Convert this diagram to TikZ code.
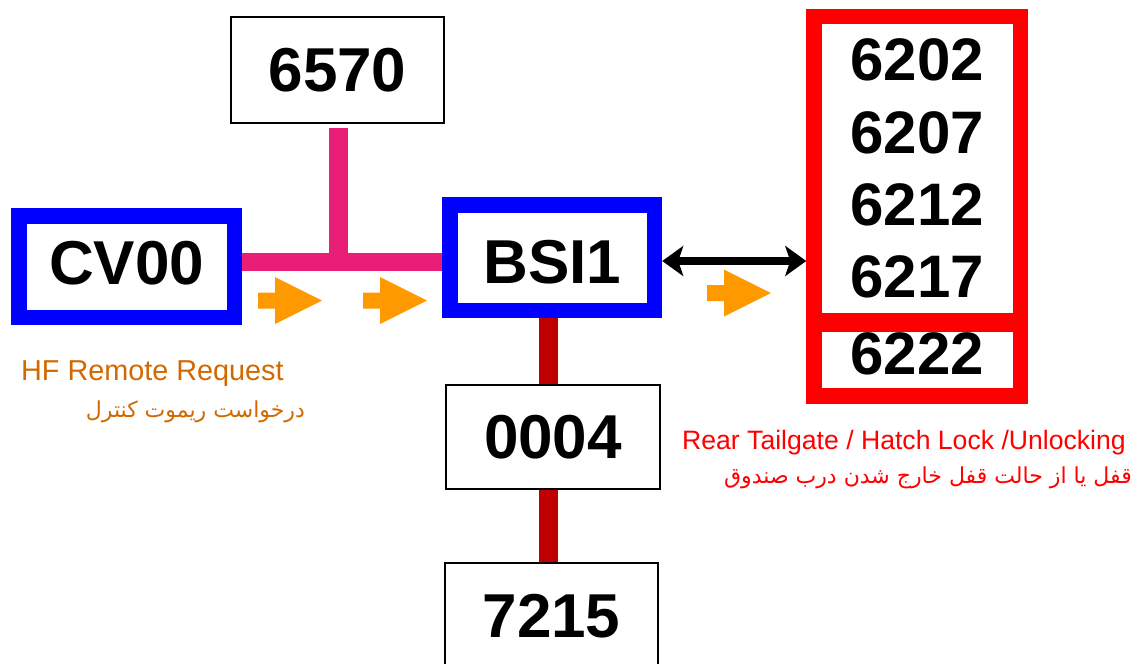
\documentclass[tikz,border=0pt]{standalone}
\usepackage{fontspec}
\setmainfont{Liberation Sans}
\newfontfamily\arabicfont[Script=Arabic]{DejaVu Sans}
\TeXXeTstate=1
\usetikzlibrary{arrows.meta,backgrounds}
\definecolor{busPink}{RGB}{233,30,118}
\definecolor{busRed}{RGB}{192,0,0}
\definecolor{flowOrange}{RGB}{255,153,0}
\definecolor{noteOrange}{RGB}{210,105,0}
\begin{document}
\begin{tikzpicture}[x=1pt,y=-1pt,
  unit/.style={draw=black,line width=2.5pt,inner sep=0pt,font=\fontsize{62}{62}\selectfont\bfseries,
    minimum width=213pt,minimum height=106pt},
  hub/.style={unit,draw=blue,line width=15.5pt},
  lock/.style={unit,draw=red,line width=15.5pt,align=center,
    font=\fontsize{60}{72.3}\selectfont\bfseries},
  canbus/.style={draw=busPink,line width=18.5pt},
  lanbus/.style={draw=busRed,line width=19pt},
  flow/.style={fill=flowOrange},
  note/.style={inner sep=0pt,font=\fontsize{28.8}{32}\selectfont}]
  \useasboundingbox (0,0) rectangle (1136,664);
  \clip (0,0) rectangle (1136,664);
  \node[unit] (n6570) at (337.5,70) {6570};
  \node[hub,minimum width=215.5pt,minimum height=101.5pt,text depth=8pt] (cv) at (126.75,266.75) {CV00};
  \node[hub,minimum width=204.5pt,minimum height=105.5pt,text height=52pt] (bsi) at (552.25,257.75) {BSI1};
  \node[unit,minimum width=214pt,minimum height=104pt] (n0004) at (553,437) {0004};
  \node[unit,minimum height=120pt,text depth=15pt] (n7215) at (551.5,623) {7215};
  \node[lock,minimum width=206.5pt,minimum height=304pt] (lockA) at (917.25,168.5) {6202\\6207\\6212\\6217};
  \node[lock,minimum width=206.5pt,minimum height=72pt,text depth=12pt] (lockB) at (917.25,360) {6222};
  \begin{scope}[on background layer]
    \coordinate (bus) at (338.5,262);
    \coordinate (trunk) at (548.5,0);
    \draw[canbus] (cv.east |- bus) -- (bsi.west |- bus);
    \draw[canbus,shorten <=4pt] (n6570.south -| bus) -- (bus);
    \draw[lanbus] (bsi.south -| trunk) -- (n0004.north -| trunk);
    \draw[lanbus] (n0004.south -| trunk) -- (n7215.north -| trunk);
  \end{scope}
  \coordinate (link) at (735,261);
  \draw[line width=8pt,{Stealth[length=21pt,width=30pt,inset=5pt]}-{Stealth[length=21pt,width=30pt,inset=5pt]}]
    (bsi.east |- link) -- (lockA.west |- link);
  \foreach \ax/\ay in {258/300.5,363/300.5,707/293}
    \fill[flow] (\ax,\ay-8) -- ++(17,0) -- ++(0,-15.5) -- ++(47,23.5) -- ++(-47,23.5) -- ++(0,-15.5) -- ++(-17,0) -- cycle;
  \node[note,text=noteOrange,anchor=base west] (hfEn) at (21,380) {HF Remote Request};
  \node[note,text=noteOrange,anchor=base east,font=\arabicfont\fontsize{22}{26}\selectfont] (hfFa) at (305,417)
    {\beginR درخواست ریموت کنترل\endR};
  \node[note,text=red,anchor=base west,font=\fontsize{26.6}{30}\selectfont] (lockEn) at (682,449)
    {Rear Tailgate / Hatch Lock /Unlocking};
  \node[note,text=red,anchor=base east,font=\arabicfont\fontsize{22}{26}\selectfont] (lockFa) at (1132,483)
    {\beginR قفل یا از حالت قفل خارج شدن درب صندوق\endR};
\end{tikzpicture}
\end{document}
